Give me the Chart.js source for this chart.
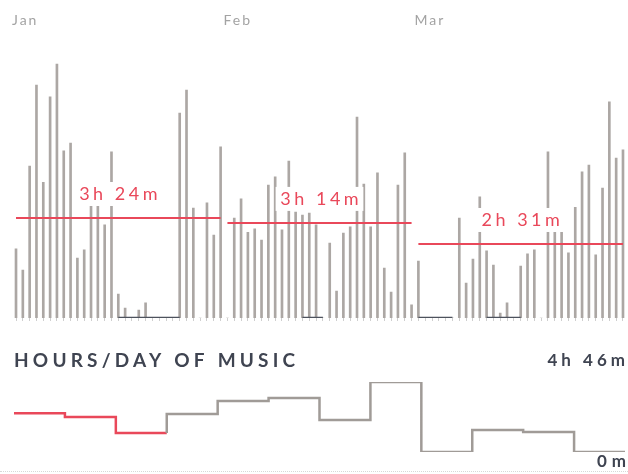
<!DOCTYPE html>
<html>
<head>
<meta charset="utf-8">
<script src="https://cdn.jsdelivr.net/npm/chart.js@4.4.1/dist/chart.umd.min.js"></script>
<style>
  html, body { margin: 0; padding: 0; background: #fff; }
  #wrap { position: relative; width: 628px; height: 474px; overflow: hidden; }
  #topBox { position: absolute; left: 0; top: 0; width: 628px; height: 330px; }
  #botBox { position: absolute; left: 0; top: 340px; width: 628px; height: 134px; }
  #dots { position: absolute; left: 0; top: 471px; width: 628px; border-top: 1px dotted #d8d8d8; }
</style>
</head>
<body>
<div id="wrap">
  <div id="topBox"><canvas id="days"></canvas></div>
  <div id="botBox"><canvas id="year"></canvas></div>
  <div id="dots"></div>
</div>
<script>
// minutes of music per day
const monthNames = ['Jan', 'Feb', 'Mar'];
const monthDays = [31, 28, 31];
const janMinutes = [141, 98, 310, 475, 277, 451, 518, 341, 357, 122, 139, 228, 228, 190, 339, 49, 20, 0, 16, 31, 0, 0, 0, 0, 418, 465, 224, 0, 235, 169, 349];
const febMinutes = [0, 204, 243, 175, 182, 159, 271, 288, 180, 320, 216, 210, 214, 190, 0, 153, 55, 173, 186, 410, 273, 186, 296, 102, 53, 271, 337, 27];
const marMinutes = [116, 0, 0, 0, 0, 0, 204, 71, 120, 247, 137, 108, 10, 31, 0, 106, 131, 139, 0, 339, 175, 175, 133, 226, 298, 312, 129, 265, 441, 326, 343];
const monthMeans = [204, 194, 151];
const meanLabels = ['3h 24m', '3h 14m', '2h 31m'];
// day index ranges marked dark on the baseline
const darkRanges = [[15, 24], [42, 45], [59, 64], [69, 74]];

// hours/day of music, one step per month
const yearMinutes = [158, 143, 78, 155, 208, 221, 131, 286, 0, 90, 82, 0];
const highlightCount = 3;
const rangeLabels = ['4h 46m', '0m'];

const RED = '#e9485a';
const BAR = '#aca7a4';
const STEP = '#a09b97';
const INK = '#3f4451';

Chart.defaults.font.family = 'Lato';

// build the daily tables
const dayMinutes = janMinutes.concat(febMinutes, marMinutes);
const dayLabels = [];
const monthStart = [];
let idx = 0;
monthDays.forEach((n, m) => {
  monthStart.push(idx);
  for (let d = 1; d <= n; d++) dayLabels.push(monthNames[m] + ' ' + d);
  idx += n;
});

const meanSets = monthMeans.map((v, m) => ({
  type: 'line',
  data: dayLabels.map((_, i) => (i >= monthStart[m] && i < monthStart[m] + monthDays[m]) ? v : null),
  borderColor: RED,
  borderWidth: 2,
  pointRadius: 0,
  spanGaps: false,
  order: 0
}));

const darkLine = {
  type: 'line',
  data: dayLabels.map((_, i) => darkRanges.some(r => i >= r[0] && i <= r[1]) ? 0 : null),
  borderColor: '#4d525d',
  borderWidth: 2.5,
  pointRadius: 0,
  spanGaps: false,
  order: 0
};

const meanLabelPlugin = {
  id: 'meanLabels',
  beforeDraw(chart) { chart.ctx.letterSpacing = '2px'; },
  afterDatasetsDraw(chart) {
    const ctx = chart.ctx, xs = chart.scales.x, ys = chart.scales.y;
    monthMeans.forEach((v, m) => {
      const cx = (xs.getPixelForValue(monthStart[m]) + xs.getPixelForValue(monthStart[m] + monthDays[m] - 1)) / 2;
      const ly = ys.getPixelForValue(v) - 24;
      ctx.save();
      ctx.font = '18px Lato';
      ctx.letterSpacing = '3.5px';
      const w = ctx.measureText(meanLabels[m]).width;
      ctx.fillStyle = '#fff';
      ctx.fillRect(cx - w / 2 - 3, ly - 12, w + 6, 24);
      ctx.fillStyle = RED;
      ctx.textAlign = 'center';
      ctx.textBaseline = 'middle';
      ctx.fillText(meanLabels[m], cx + 1.75, ly);
      ctx.restore();
    });
  }
};

new Chart(document.getElementById('days'), {
  type: 'bar',
  data: {
    labels: dayLabels,
    datasets: [
      ...meanSets,
      darkLine,
      { type: 'bar', data: dayMinutes, backgroundColor: BAR, barThickness: 2, order: 1 }
    ]
  },
  options: {
    responsive: true,
    maintainAspectRatio: false,
    animation: false,
    layout: { padding: { left: 12.6, right: 1.6, top: 0, bottom: 0 } },
    plugins: { legend: { display: false }, tooltip: { enabled: false } },
    scales: {
      x: {
        position: 'top',
        grid: { display: false, drawTicks: true, tickLength: 15 },
        border: { display: false },
        afterFit(s) { s.height = 43.5; },
        ticks: {
          autoSkip: false,
          maxRotation: 0,
          align: 'start',
          padding: 0,
          labelOffset: -4,
          color: '#a3a3a3',
          font: { size: 14 },
          callback: (v, i) => { const m = monthStart.indexOf(i); return m >= 0 ? monthNames[m] : ''; }
        }
      },
      x2: {
        type: 'category',
        position: 'bottom',
        labels: dayLabels,
        afterFit(s) { s.height = 12; },
        border: { display: false },
        grid: { display: true, drawOnChartArea: false, drawTicks: true, tickLength: 3, color: '#cfcfcf', offset: false },
        ticks: { display: false }
      },
      y: { display: false, min: 0, max: 560 }
    }
  },
  plugins: [meanLabelPlugin]
});

// yearly step line: first point repeated so each segment carries its month
const stepPoints = [{ x: 0, y: yearMinutes[0] }].concat(yearMinutes.map((v, i) => ({ x: i + 1, y: v })));

const rangePlugin = {
  id: 'rangeLabels',
  beforeDraw(chart) { chart.ctx.letterSpacing = '4.2px'; },
  afterDraw(chart) {
    const ctx = chart.ctx, a = chart.chartArea;
    ctx.save();
    ctx.font = 'bold 17px Lato';
    ctx.letterSpacing = '4px';
    ctx.fillStyle = INK;
    ctx.textAlign = 'right';
    ctx.textBaseline = 'middle';
    ctx.fillText(rangeLabels[0], a.right + 4, a.top - 21);
    ctx.letterSpacing = '5px';
    ctx.fillText(rangeLabels[1], a.right + 6, a.bottom + 10);
    ctx.restore();
  }
};

new Chart(document.getElementById('year'), {
  type: 'line',
  data: {
    datasets: [{
      data: stepPoints,
      stepped: 'after',
      borderWidth: 2.5,
      borderColor: STEP,
      pointRadius: 0,
      segment: { borderColor: c => c.p0DataIndex < highlightCount ? RED : STEP }
    }]
  },
  options: {
    responsive: true,
    maintainAspectRatio: false,
    animation: false,
    layout: { padding: { left: 14, right: 3, top: 0, bottom: 22 } },
    plugins: {
      legend: { display: false },
      tooltip: { enabled: false },
      title: {
        display: true,
        text: 'HOURS/DAY OF MUSIC',
        align: 'start',
        color: INK,
        font: { size: 19, weight: 'bold', lineHeight: 1.2 },
        padding: { top: 9.6, bottom: 9.6 }
      }
    },
    scales: {
      x: { type: 'linear', display: false, min: 0, max: 12 },
      y: { display: false, min: 0, max: 286 }
    }
  },
  plugins: [rangePlugin]
});
</script>
</body>
</html>
